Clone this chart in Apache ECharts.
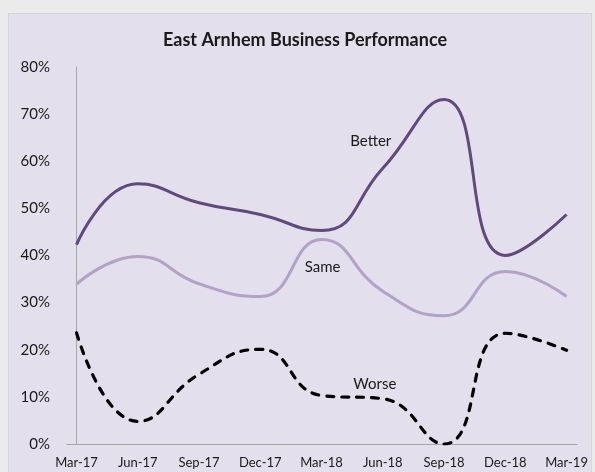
<!DOCTYPE html>
<html>
<head>
<meta charset="utf-8">
<script src="https://cdn.jsdelivr.net/npm/echarts@6/dist/echarts.min.js"></script>
<style>
  html, body { margin: 0; padding: 0; background: #ebebeb; }
  #frame {
    position: absolute; left: 8px; top: 13px; width: 584px; height: 470px;
    background: #e4dfec; border: 1px solid #d6d6d6; box-sizing: border-box;
  }
  #chart { position: absolute; left: 0; top: 0; width: 595px; height: 472px; }
</style>
</head>
<body>
<div id="frame"></div>
<div id="chart"></div>
<script>
// quarterly survey results (percent)
const quarters = ['Mar-17', 'Jun-17', 'Sep-17', 'Dec-17', 'Mar-18', 'Jun-18', 'Sep-18', 'Dec-18', 'Mar-19'];
const better = [42.3, 55.2, 51.2, 48.7, 45.3, 58.5, 73.1, 40.0, 48.7];
const same = [33.9, 39.8, 34.0, 31.3, 43.4, 32.4, 27.2, 36.6, 31.3];
const worse = [23.6, 4.8, 14.8, 20.1, 10.3, 9.6, 0.0, 23.5, 19.9];
const yTicks = [0, 10, 20, 30, 40, 50, 60, 70, 80];

const font = 'Lato, "Open Sans", sans-serif';

// put a name label on one point of a series
function withLabel(values, idx, text, offset) {
  return values.map((v, i) => {
    const item = { value: [i, v] };
    if (i === idx) {
      item.label = {
        show: true,
        formatter: text,
        position: 'inside',
        offset: offset,
        color: '#1a1a1a',
        fontSize: 15,
        fontFamily: font
      };
    }
    return item;
  });
}

const chart = echarts.init(document.getElementById('chart'));

const lineBase = {
  type: 'line',
  smooth: 0.5,
  symbol: 'circle',
  symbolSize: 0.1,
  showSymbol: true,
  showAllSymbol: true,
  label: { fontSize: 15, fontFamily: font, color: '#1a1a1a' }
};

chart.setOption({
  animation: false,
  title: {
    text: 'East Arnhem Business Performance',
    left: 300,
    top: 26,
    textAlign: 'center',
    textStyle: { fontFamily: font, fontSize: 18, fontWeight: 'bold', color: '#1a1a1a' }
  },
  grid: { left: 67, right: 18, top: 67, bottom: 28 },
  xAxis: {
    type: 'value',
    min: -0.155,
    max: 8.17,
    splitLine: { show: false },
    axisTick: { show: false },
    axisLine: { show: true, lineStyle: { color: '#a6a6a6', width: 1 } },
    axisLabel: {
      customValues: quarters.map((q, i) => i),
      formatter: (v) => quarters[Math.round(v)],
      color: '#1a1a1a',
      fontSize: 13,
      fontFamily: font,
      margin: 12
    }
  },
  yAxis: {
    type: 'value',
    min: 0,
    max: 80,
    interval: 10,
    splitLine: { show: false },
    axisTick: { show: false },
    axisLine: { show: true, lineStyle: { color: '#a6a6a6', width: 1 } },
    axisLabel: {
      customValues: yTicks,
      formatter: '{value}%',
      color: '#1a1a1a',
      fontSize: 15,
      fontFamily: font,
      margin: 17
    }
  },
  series: [
    Object.assign({}, lineBase, {
      name: 'Better',
      data: withLabel(better, 5, 'Better', [-12, -27]),
      lineStyle: { color: '#604a7b', width: 3 },
      itemStyle: { color: '#604a7b' }
    }),
    Object.assign({}, lineBase, {
      name: 'Same',
      data: withLabel(same, 4, 'Same', [1, 28]),
      lineStyle: { color: '#b3a2c7', width: 3 },
      itemStyle: { color: '#b3a2c7' }
    }),
    Object.assign({}, lineBase, {
      name: 'Worse',
      data: withLabel(worse, 5, 'Worse', [-8, -15]),
      lineStyle: { color: '#000000', width: 3.2, type: [7, 8], cap: 'round' },
      itemStyle: { color: '#000000' }
    })
  ]
});
</script>
</body>
</html>
